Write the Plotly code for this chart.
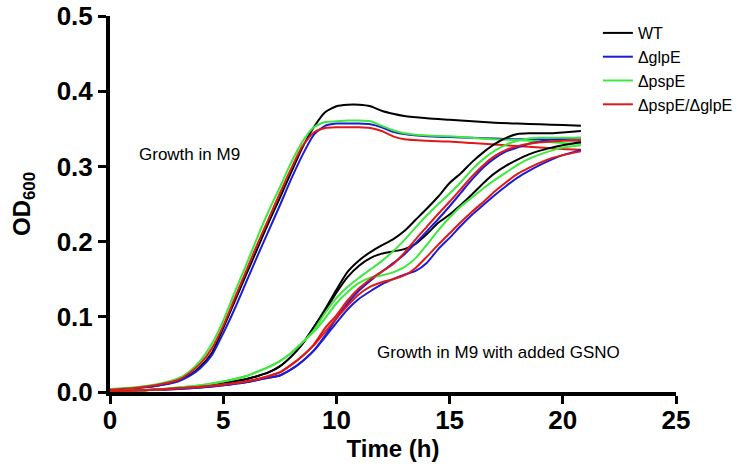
import plotly.graph_objects as go

# ---- data ----
t_m9 = [0, 1, 2, 3, 3.5, 4, 4.5, 5, 5.5, 6, 6.5, 7, 7.5, 8, 8.5, 9, 9.5, 10, 10.5, 11,
        11.5, 12, 12.5, 13, 14, 15, 16, 17, 18, 19, 20, 20.8]
m9_wt = [.003, .005, .008, .015, .022, .034, .052, .085, .12, .155, .19, .225, .258, .292, .325, .352,
         .372, .380, .382, .382, .380, .374, .370, .367, .364, .362, .360, .358, .357, .356, .355, .354]
m9_glpE = [.003, .005, .008, .014, .021, .032, .049, .078, .110, .145, .180, .214, .248, .283, .315, .342,
           .354, .357, .357, .357, .356, .352, .346, .343, .340, .339, .338, .337, .336, .336, .335, .334]
m9_pspE = [.004, .006, .010, .018, .027, .042, .064, .095, .132, .168, .205, .240, .272, .305, .333, .352,
           .359, .360, .361, .361, .360, .354, .348, .344, .341, .340, .338, .336, .335, .333, .331, .330]
m9_dbl = [.003, .005, .009, .016, .025, .038, .058, .088, .124, .160, .196, .230, .264, .297, .327, .345,
          .351, .352, .352, .352, .351, .347, .340, .336, .334, .333, .331, .329, .327, .325, .323, .322]

t_gs = [0, 1, 2, 3, 4, 5, 6, 6.5, 7, 7.5, 8, 8.5, 9, 9.5, 10, 10.5, 11, 11.5, 12, 12.5, 13, 13.5,
        14, 14.5, 15, 15.5, 16, 16.5, 17, 17.5, 18, 18.5, 19, 19.5, 20, 20.8]
gs_wt_a = [.001, .002, .003, .005, .008, .012, .017, .021, .026, .034, .047, .064, .086, .110, .136, .160,
           .175, .186, .195, .203, .214, .229, .244, .260, .278, .291, .306, .319, .330, .338, .343, .344,
           .344, .344, .345, .347]
gs_wt_b = [.001, .002, .003, .005, .008, .012, .017, .021, .026, .034, .047, .064, .086, .108, .132, .153,
           .168, .178, .184, .187, .190, .197, .210, .225, .236, .249, .263, .278, .291, .301, .309, .316,
           .321, .325, .328, .332]
gs_glpE_a = [.001, .002, .003, .004, .006, .009, .013, .016, .019, .022, .030, .041, .055, .075, .098, .118,
             .135, .148, .160, .171, .183, .198, .214, .230, .247, .265, .283, .299, .311, .320, .325, .330,
             .333, .336, .337, .338]
gs_glpE_b = [.001, .002, .003, .004, .006, .009, .013, .016, .019, .022, .030, .041, .055, .073, .092, .110,
             .124, .134, .143, .150, .156, .161, .172, .190, .205, .221, .236, .249, .262, .274, .285, .294,
             .302, .309, .315, .322]
gs_pspE_a = [.001, .002, .003, .006, .009, .014, .021, .027, .033, .041, .052, .066, .082, .105, .125, .140,
             .152, .163, .174, .187, .202, .219, .235, .250, .264, .279, .296, .310, .321, .329, .334, .337,
             .338, .338, .338, .338]
gs_pspE_b = [.001, .002, .003, .006, .009, .014, .021, .027, .033, .041, .052, .066, .080, .098, .118, .133,
             .145, .152, .155, .159, .166, .178, .196, .215, .232, .247, .259, .271, .282, .292, .302, .310,
             .316, .321, .325, .328]
gs_dbl_a = [.001, .002, .003, .005, .007, .010, .014, .017, .021, .026, .036, .048, .063, .085, .102, .122,
            .138, .150, .160, .170, .185, .203, .220, .237, .253, .270, .287, .302, .314, .322, .327, .330,
            .332, .333, .334, .335]
gs_dbl_b = [.001, .002, .003, .005, .007, .010, .014, .017, .021, .026, .036, .048, .062, .080, .098, .115,
            .130, .140, .146, .150, .155, .165, .180, .196, .211, .226, .240, .253, .267, .279, .290, .298,
            .305, .311, .315, .320]

strains = ["WT", "ΔglpE", "ΔpspE", "ΔpspE/ΔglpE"]
colors = ["#000000", "#1c1cd8", "#3ee83e", "#e01818"]
m9_series = [m9_wt, m9_glpE, m9_pspE, m9_dbl]
gs_series = [(gs_wt_a, gs_wt_b), (gs_glpE_a, gs_glpE_b), (gs_pspE_a, gs_pspE_b), (gs_dbl_a, gs_dbl_b)]

x_ticks = [0, 5, 10, 15, 20, 25]
y_ticks = [0.0, 0.1, 0.2, 0.3, 0.4, 0.5]

fig = go.Figure()
for name, col, ys in zip(strains, colors, m9_series):
    fig.add_trace(go.Scatter(x=t_m9, y=ys, mode="lines", name=name, legendgroup=name,
                             line=dict(color=col, width=2, shape="spline", smoothing=0.6)))
for name, col, pair in zip(strains, colors, gs_series):
    for ys in pair:
        fig.add_trace(go.Scatter(x=t_gs, y=ys, mode="lines", name=name, legendgroup=name,
                                 showlegend=False,
                                 line=dict(color=col, width=2, shape="spline", smoothing=0.6)))

tick_font = dict(family="Liberation Sans, Arial", size=26, color="black", weight="bold")
title_font = dict(family="Liberation Sans, Arial", size=24, color="black")

fig.update_layout(
    width=744, height=471,
    margin=dict(l=110, r=68, t=16, b=79, autoexpand=False),
    paper_bgcolor="white", plot_bgcolor="white",
    font=dict(family="Liberation Sans, Arial", color="black"),
    showlegend=True,
    legend=dict(x=0.862, y=1.0, xanchor="left", yanchor="top",
                font=dict(family="Liberation Sans, Arial", size=16, color="black"),
                bgcolor="rgba(0,0,0,0)", itemwidth=30, tracegroupgap=0),
    xaxis=dict(range=[0, 25], tickvals=x_ticks, ticktext=[str(v) for v in x_ticks],
               automargin=False, ticklabeloverflow="allow",
               showgrid=False, zeroline=False, showline=True, linecolor="black", linewidth=4,
               ticks="outside", ticklen=8, tickwidth=3, tickcolor="black",
               ticklabelstandoff=-6,
               tickfont=tick_font,
               title=dict(text="<b>Time (h)</b>", font=title_font, standoff=0)),
    yaxis=dict(range=[0, 0.5], tickvals=y_ticks, ticktext=[f"{v:.1f}" for v in y_ticks],
               automargin=False, ticklabeloverflow="allow",
               showgrid=False, zeroline=False, showline=True, linecolor="black", linewidth=4,
               ticks="outside", ticklen=8, tickwidth=3, tickcolor="black",
               tickfont=tick_font,
               title=dict(text="<b>OD<sub>600</sub></b>", font=title_font, standoff=20)),
    annotations=[
        dict(x=3.53, y=0.316, xref="x", yref="y", text="Growth in M9", showarrow=False,
             font=dict(family="Liberation Sans, Arial", size=17, color="black")),
        dict(x=17.18, y=0.053, xref="x", yref="y", text="Growth in M9 with added GSNO", showarrow=False,
             font=dict(family="Liberation Sans, Arial", size=17, color="black")),
    ],
)

# remove the page's default 8px body margin so the figure fills the window exactly
fig.write_html("out.html", config={"displayModeBar": False},
               post_script="document.body.style.margin='0px';")
